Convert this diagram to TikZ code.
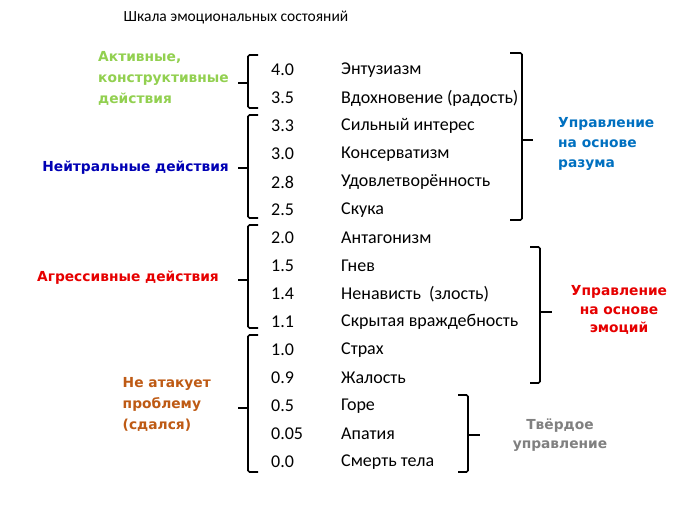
\documentclass[tikz,border=0pt]{standalone}
\usepackage{fontspec}
\setmainfont{Carlito}
\newfontfamily\labfont{DejaVu Sans}
\usetikzlibrary{positioning}
\definecolor{emgreen}{RGB}{146,208,80}
\definecolor{emnavy}{RGB}{0,0,180}
\definecolor{emred}{RGB}{230,0,0}
\definecolor{embrown}{RGB}{190,90,20}
\definecolor{emblue}{RGB}{0,112,192}
\definecolor{emgray}{RGB}{128,128,128}

\begin{document}
\begin{tikzpicture}[x=1pt,y=-1pt,
  emrow/.style={anchor=west,inner sep=0pt,font=\fontsize{18}{20}\selectfont},
  emlab/.style={inner sep=0pt,font=\labfont\bfseries\fontsize{13.8}{21}\selectfont},
  embrak/.style={line width=1.6pt,rounded corners=1.5pt}
]
  \useasboundingbox (0,0) rectangle (695,518);
  % Title
  \node[font=\fontsize{15.5}{18}\selectfont] (title) at (236,18) {Шкала эмоциональных состояний};
  % Scale rows
  \foreach \v/\t [count=\i] in {4.0/Энтузиазм, 3.5/Вдохновение (радость), 3.3/Сильный интерес,
      3.0/Консерватизм, 2.8/Удовлетворённость, 2.5/Скука, 2.0/Антагонизм, 1.5/Гнев,
      1.4/Ненависть\ \ (злость), 1.1/Скрытая враждебность, 1.0/Страх, 0.9/Жалость,
      0.5/Горе, 0.05/Апатия, 0.0/Смерть тела} {
    \node[emrow] (v\i) at (271,42+28*\i) {\v};
    \node[emrow] (t\i) at (341,42+28*\i) {\t};
  }
  % Left brackets
  \draw[embrak] (258,55) -- (248,55) -- (248,108) -- (258,108);
  \draw[embrak] (248,83) -- (238,83) coordinate (la);
  \draw[embrak] (258,115) -- (248,115) -- (248,218) -- (258,218);
  \draw[embrak] (248,168) -- (238,168) coordinate (lb);
  \draw[embrak] (258,225) -- (248,225) -- (248,328) -- (258,328);
  \draw[embrak] (248,280) -- (238,280) coordinate (lc);
  \draw[embrak] (258,335) -- (248,335) -- (248,472) -- (258,472);
  \draw[embrak] (248,408) -- (238,408) coordinate (ld);
  % Right brackets
  \draw[embrak] (510,53) -- (522,53) -- (522,220) -- (510,220);
  \draw[embrak] (522,140) -- (533,140) coordinate (ra);
  \draw[embrak] (530,247) -- (540,247) -- (540,383) -- (530,383);
  \draw[embrak] (540,312) -- (552,312) coordinate (rb);
  \draw[embrak] (458,395) -- (468,395) -- (468,472) -- (458,472);
  \draw[embrak] (468,435) -- (480,435) coordinate (rc);
  % Left labels
  \node[emlab,text=emgreen,align=left,anchor=east] (active) at (229,78)
    {Активные,\\конструктивные\\действия};
  \node[emlab,text=emnavy,anchor=east] (neutral) at (229,168) {Нейтральные действия};
  \node[emlab,text=emred,anchor=east] (aggr) at (219,278) {Агрессивные действия};
  \node[emlab,text=embrown,align=left,anchor=east] (giveup) at (211,404)
    {Не атакует\\проблему\\(сдался)};
  % Right labels
  \node[emlab,text=emblue,align=left,anchor=west,font=\labfont\bfseries\fontsize{13.8}{20}\selectfont]
    (reason) at (558,144) {Управление\\на основе\\разума};
  \node[emlab,text=emred,align=center,font=\labfont\bfseries\fontsize{13.8}{18.5}\selectfont]
    (emotion) at (619,310) {Управление\\на основе\\эмоций};
  \node[emlab,text=emgray,align=center,font=\labfont\bfseries\fontsize{13.8}{19}\selectfont]
    (hard) at (560,435) {Твёрдое\\управление};
\end{tikzpicture}
\end{document}
